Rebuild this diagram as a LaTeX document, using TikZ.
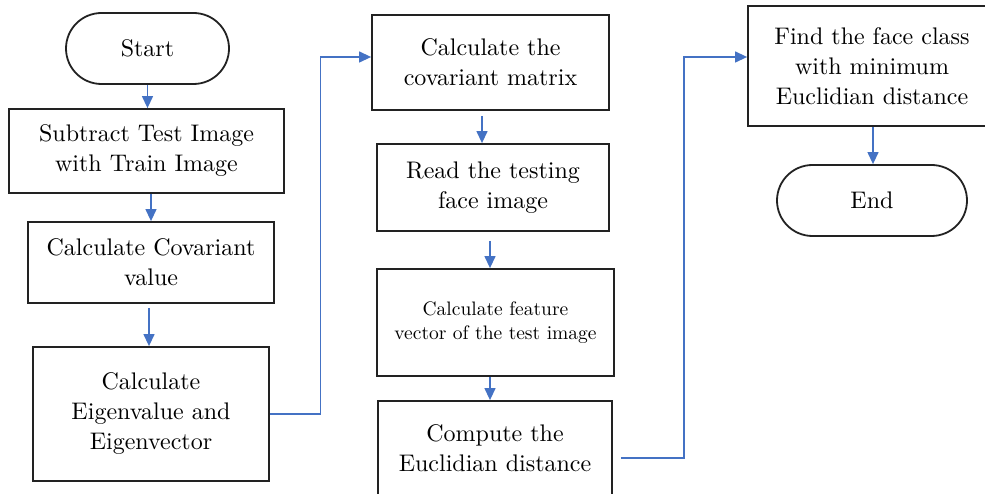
\documentclass[tikz,border=0pt]{standalone}
\usepackage{fontspec}
\setmainfont{lmroman10-regular.otf}
\usetikzlibrary{shapes.misc,arrows.meta,calc}
\definecolor{lineblue}{HTML}{4472C4}
\definecolor{boxline}{HTML}{222222}
\tikzset{
  box/.style={draw=boxline, line width=1.8pt, rectangle, align=center, inner sep=0pt,
    text=black, font=\fontsize{24}{30}\selectfont},
  term/.style={draw=boxline, line width=1.8pt, rounded rectangle, align=center, inner sep=0pt,
    text=black, font=\fontsize{24}{30}\selectfont},
  arr/.style={draw=lineblue, line width=1.3pt, -{Triangle[length=12pt,width=11pt]}},
}
\begin{document}
\begin{tikzpicture}[x=1pt,y=-1pt]
\useasboundingbox (0,0) rectangle (985,494);
\clip (0,0) rectangle (985,494);
\fill[white] (0,0) rectangle (985,494);
% column 1
\node[term, minimum width=163pt, minimum height=71pt] (start) at (147.5,48.5) {Start};
\node[box, minimum width=275pt, minimum height=84pt] (sub) at (146.5,151) {Subtract Test Image\\with Train Image};
\node[box, minimum width=246pt, minimum height=81pt] (cov) at (151,262.5) {Calculate Covariant\\value};
\node[box, minimum width=236pt, minimum height=134pt] (eig) at (151,414) {Calculate\\Eigenvalue and\\Eigenvector};
% column 2
\node[box, minimum width=237pt, minimum height=95pt] (cm) at (490.5,62.5) {Calculate the\\covariant matrix};
\node[box, minimum width=232pt, minimum height=87pt] (read) at (493,187.5) {Read the testing\\face image};
\node[box, minimum width=237pt, minimum height=107pt, font=\fontsize{19.5}{24}\selectfont] (feat) at (495.5,322.5) {Calculate feature\\vector of the test image};
\node[box, minimum width=234pt, minimum height=95pt] (comp) at (495,448.5) {Compute the\\Euclidian distance};
% column 3
\node[box, minimum width=248pt, minimum height=120pt] (find) at (872,66) {Find the face class\\with minimum\\Euclidian distance};
\node[term, minimum width=190pt, minimum height=71pt] (end) at (872,200.5) {End};
% connectors
\draw[arr] (start.south) -- (start.south |- sub.north);
\draw[arr] (sub.south -| cov.north) -- (cov.north);
\draw[arr, shorten <=4pt] ([xshift=-2pt]cov.south) -- ([xshift=-2pt]cov.south |- eig.north);
\draw[arr, shorten <=5pt] ([xshift=-8.5pt]cm.south) -- ([xshift=-8.5pt]cm.south |- read.north);
\draw[arr, shorten <=9pt] ([xshift=-3pt]read.south) -- ([xshift=-3pt]read.south |- feat.north);
\draw[arr] ([xshift=-5.5pt]feat.south) -- ([xshift=-5.5pt]feat.south |- comp.north);
\draw[arr] ([xshift=1pt]find.south) -- ([xshift=1pt]find.south |- end.north);
\coordinate (cmin) at ([yshift=5.5pt]cm.west);
\draw[arr] (eig.east) -| ($(eig.east)!0.5!(cmin)$) |- (cmin);
\coordinate (c1) at ([xshift=8pt,yshift=-9.5pt]comp.east);
\coordinate (c2) at ([yshift=9pt]find.west);
\draw[arr] (c1) -| ($(c1)!0.5!(c2)$) |- (c2);
\end{tikzpicture}
\end{document}
